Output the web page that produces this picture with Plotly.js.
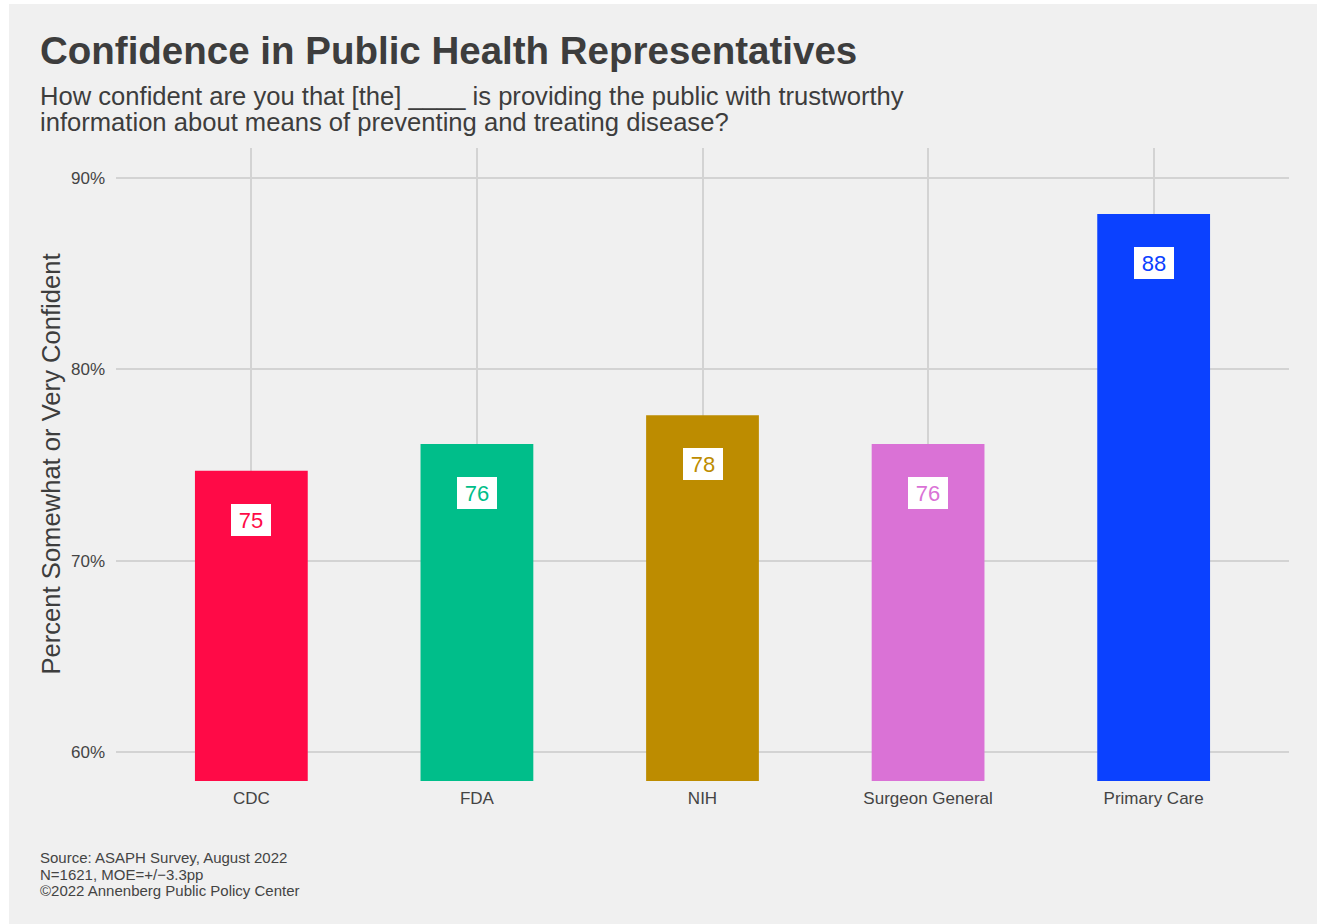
<!DOCTYPE html>
<html>
<head>
<meta charset="utf-8">
<script src="https://cdn.plot.ly/plotly-3.0.1.min.js"></script>
<style>
  html, body { margin: 0; padding: 0; background: #ffffff; width: 1319px; height: 924px; overflow: hidden; }
  #chart { position: absolute; left: 9px; top: 4px; width: 1308px; height: 920px; }
</style>
</head>
<body>
<div id="chart"></div>
<script>
const categories = ["CDC", "FDA", "NIH", "Surgeon General", "Primary Care"];
const values = [74.7, 76.1, 77.6, 76.1, 88.1];
const barColors = ["#FF0A47", "#00BE8A", "#BD8C00", "#DA72D6", "#0B41FF"];
const yTickVals = [60, 70, 80, 90];
const yTickText = ["60%", "70%", "80%", "90%"];
const titleText = "Confidence in Public Health Representatives";
const subtitleLines = [
  "How confident are you that [the] ____ is providing the public with trustworthy",
  "information about means of preventing and treating disease?"
];
const captionLines = [
  "Source: ASAPH Survey, August 2022",
  "N=1621, MOE=+/\u22123.3pp",
  "\u00A92022 Annenberg Public Policy Center"
];
const yTitle = "Percent Somewhat or Very Confident";

const W = 1308, H = 920;
const M = {l: 107, r: 28, t: 144, b: 143};
const plotW = W - M.l - M.r, plotH = H - M.t - M.b;
const px2x = px => (px - M.l) / plotW;
const py2y = py => (H - M.b - py) / plotH;

const FONT = "Liberation Sans, Arial, Helvetica, sans-serif";
const TXT = "#444444";

const trace = {
  type: "bar",
  x: categories,
  y: values,
  width: 0.5,
  marker: {color: barColors, line: {width: 0}},
  hoverinfo: "skip"
};

const annotations = [];
// value labels
categories.forEach((c, i) => {
  annotations.push({
    x: c, y: values[i], xref: "x", yref: "y",
    text: String(Math.round(values[i])),
    showarrow: false, yanchor: "middle", xanchor: "center",
    yshift: -49,
    font: {family: FONT, size: 22, color: barColors[i]},
    bgcolor: "#ffffff", borderpad: 0, borderwidth: 0,
    width: 40, height: 32, align: "center", valign: "middle"
  });
});
// title
annotations.push({
  xref: "paper", yref: "paper", x: px2x(29), y: py2y(47),
  xanchor: "left", yanchor: "middle", showarrow: false,
  text: "<b>" + titleText + "</b>",
  font: {family: FONT, size: 38.5, color: "#3d3d3d"}
});
subtitleLines.forEach((t, i) => {
  annotations.push({
    xref: "paper", yref: "paper", x: px2x(29), y: py2y(92 + i * 26.5),
    xanchor: "left", yanchor: "middle", showarrow: false,
    text: t, font: {family: FONT, size: 25.6, color: "#3d3d3d"}
  });
});
captionLines.forEach((t, i) => {
  annotations.push({
    xref: "paper", yref: "paper", x: px2x(29), y: py2y(853.5 + i * 16.5),
    xanchor: "left", yanchor: "middle", showarrow: false,
    text: t, font: {family: FONT, size: 15, color: TXT}
  });
});
// y-axis title
annotations.push({
  xref: "paper", yref: "paper", x: px2x(41), y: 0.5,
  xanchor: "center", yanchor: "middle", showarrow: false, textangle: -90,
  text: yTitle, font: {family: FONT, size: 25.6, color: "#3d3d3d"}
});

const layout = {
  width: W, height: H,
  margin: M,
  paper_bgcolor: "#f0f0f0",
  plot_bgcolor: "#f0f0f0",
  showlegend: false,
  font: {family: FONT, color: TXT},
  xaxis: {
    type: "category",
    range: [-0.6, 4.6],
    showgrid: true, gridcolor: "#d3d3d3", gridwidth: 2,
    zeroline: false, showline: false, ticks: "",
    tickfont: {family: FONT, size: 17, color: TXT},
    ticklabelstandoff: 5,
    fixedrange: true
  },
  yaxis: {
    range: [58.5, 91.55],
    tickvals: yTickVals, ticktext: yTickText,
    showgrid: true, gridcolor: "#d3d3d3", gridwidth: 2,
    zeroline: false, showline: false, ticks: "",
    tickfont: {family: FONT, size: 17, color: TXT},
    ticklabelstandoff: 10,
    fixedrange: true
  },
  annotations: annotations
};

Plotly.newPlot("chart", [trace], layout, {staticPlot: true, displayModeBar: false});
</script>
</body>
</html>
